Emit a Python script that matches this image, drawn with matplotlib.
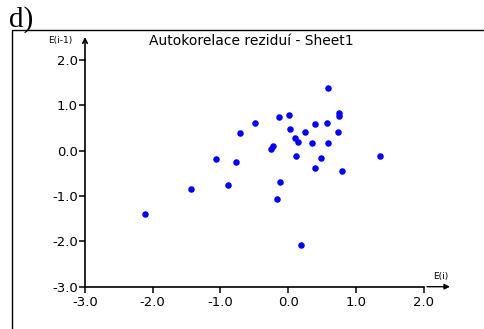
import matplotlib
matplotlib.use("Agg")
import matplotlib.pyplot as plt
from matplotlib.patches import Rectangle

# residual pairs: x = E(i), y = E(i-1)
e_i = [-0.49, -0.71, -1.06, -0.77, -0.89, -1.43, -2.12, 0.59, -0.13, 0.01,
       0.75, 0.75, 0.39, 0.57, 0.03, 0.25, 0.10, 0.14, 0.73, 0.35,
       0.59, -0.26, -0.22, 0.12, 0.48, 1.36, 0.39, 0.80, -0.12, -0.17, 0.19]
e_prev = [0.62, 0.38, -0.18, -0.25, -0.76, -0.85, -1.39, 1.39, 0.75, 0.79,
          0.83, 0.77, 0.59, 0.62, 0.48, 0.42, 0.29, 0.19, 0.42, 0.16,
          0.16, 0.04, 0.10, -0.12, -0.16, -0.12, -0.39, -0.45, -0.69, -1.06, -2.09]
ticks = [-3.0, -2.0, -1.0, 0.0, 1.0, 2.0]
tick_labels = ["-3.0", "-2.0", "-1.0", "0.0", "1.0", "2.0"]

W, H = 485, 329
plt.rcParams["font.family"] = ["DejaVu Sans"]


def fx(px):
    return px / W


def fy(py):
    return 1 - py / H


fig = plt.figure(figsize=(W / 100, H / 100), dpi=100)
fig.patch.set_facecolor("white")

# outer frame (open to the right and bottom)
fig.patches.append(Rectangle((fx(12), fy(340)), fx(500) - fx(12), fy(30) - fy(340),
                             transform=fig.transFigure, fill=False,
                             edgecolor="black", linewidth=1.0))
fig.text(fx(9), fy(27), "d)", family=["Liberation Serif"], fontsize=21,
         ha="left", va="baseline")

ax = fig.add_axes([fx(85), fy(286.7), fx(423.7) - fx(85), fy(60) - fy(286.7)])
ax.scatter(e_i, e_prev, s=22, color="#0000FF", linewidths=0, zorder=3)
ax.set_xlim(-3, 2)
ax.set_ylim(-3, 2)
ax.set_xticks(ticks)
ax.set_xticklabels(tick_labels)
ax.set_yticks(ticks)
ax.set_yticklabels(tick_labels)
for side in ("top", "right"):
    ax.spines[side].set_visible(False)
for side in ("left", "bottom"):
    ax.spines[side].set_linewidth(1.2)
ax.tick_params(axis="both", direction="out", length=4, width=1.1,
               labelsize=9.5, colors="black")
ax.tick_params(axis="x", pad=3)
ax.tick_params(axis="y", pad=1)
ax.patch.set_alpha(0)

# axis arrows
ax.annotate("", xy=(fx(85), fy(37)), xytext=(fx(85), fy(60)),
            xycoords=fig.transFigure, textcoords=fig.transFigure,
            arrowprops=dict(arrowstyle="->", lw=1.2, color="black",
                            mutation_scale=8, shrinkA=0, shrinkB=0),
            annotation_clip=False)
ax.annotate("", xy=(fx(450), fy(286.7)), xytext=(fx(427), fy(286.7)),
            xycoords=fig.transFigure, textcoords=fig.transFigure,
            arrowprops=dict(arrowstyle="-|>", lw=1.0, color="black",
                            mutation_scale=8, shrinkA=0, shrinkB=0),
            annotation_clip=False)

fig.text(fx(60), fy(41), "E(i-1)", fontsize=6.5, ha="center", va="center")
fig.text(fx(441), fy(277), "E(i)", fontsize=6.5, ha="center", va="center")
fig.text(fx(251), fy(41), "Autokorelace reziduí - Sheet1", fontsize=10,
         ha="center", va="center")

fig.savefig("out.png", dpi=100)
